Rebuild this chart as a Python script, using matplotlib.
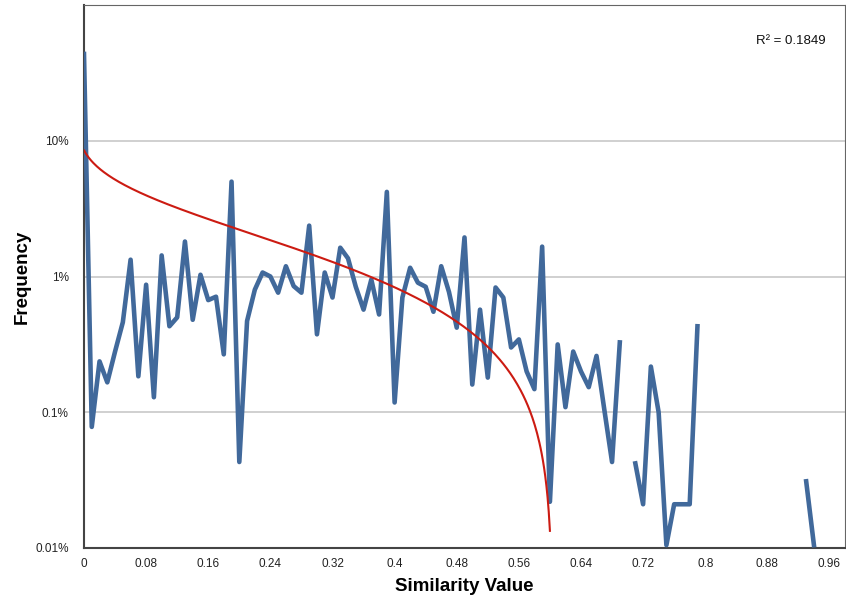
import numpy as np
import matplotlib.pyplot as plt

plt.rcParams['font.family'] = ['Liberation Sans', 'DejaVu Sans']

# similarity value categories (step 0.01) and frequency in percent
similarity = [round(i * 0.01, 2) for i in range(95)]
nan = np.nan
frequency = [
    43.6, 0.078, 0.237, 0.166, 0.28, 0.46, 1.33, 0.184, 0.87, 0.129,
    1.43, 0.43, 0.50, 1.81, 0.48, 1.03, 0.67, 0.71, 0.267, 5.0,
    0.043, 0.47, 0.80, 1.07, 1.0, 0.76, 1.19, 0.85, 0.76, 2.37,
    0.375, 1.07, 0.70, 1.63, 1.36, 0.84, 0.57, 0.95, 0.525, 4.2,
    0.118, 0.70, 1.16, 0.90, 0.84, 0.55, 1.19, 0.77, 0.42, 1.94,
    0.16, 0.57, 0.18, 0.83, 0.70, 0.30, 0.344, 0.20, 0.148, 1.66,
    0.0219, 0.316, 0.109, 0.28, 0.20, 0.153, 0.26, 0.105, 0.043, 0.327,
    nan, 0.042, 0.021, 0.217, 0.10, 0.0105, 0.021, 0.021, 0.021, 0.43,
    nan, nan, nan, nan, nan, nan, nan, nan, nan, nan,
    nan, nan, nan, 0.031, 0.0105,
]
xticks = [0, 0.08, 0.16, 0.24, 0.32, 0.4, 0.48, 0.56, 0.64, 0.72, 0.8, 0.88, 0.96]
xtick_labels = ['0', '0.08', '0.16', '0.24', '0.32', '0.4', '0.48', '0.56',
                '0.64', '0.72', '0.8', '0.88', '0.96']
yticks = [0.01, 0.1, 1, 10]
ytick_labels = ['0.01%', '0.1%', '1%', '10%']
r_squared = '0.1849'

# logarithmic trendline y = a + b*ln(n), n = category index
trend_a = 8.49
trend_b = -2.062
trend_last_n = 61

x = np.array(similarity)
y = np.array(frequency)

n_fine = np.linspace(1, trend_last_n, 400)
trend = trend_a + trend_b * np.log(n_fine)
x_fine = (n_fine - 1) * 0.01
trend[trend <= 0] = np.nan

fig = plt.figure(figsize=(8.46, 5.98), dpi=100)
ax = fig.add_axes([84 / 846, 50 / 598, 761 / 846, 543 / 598])

ax.plot(x, y, color='#41699b', lw=3.3, solid_joinstyle='round', zorder=3)
ax.plot(x_fine, trend, color='#cc1b12', lw=1.5, zorder=4)

ax.set_yscale('log')
ax.set_ylim(0.01, 100)
ax.set_xlim(0, 0.98)
ax.set_yticks(yticks)
ax.set_yticklabels(ytick_labels)
ax.yaxis.set_minor_locator(plt.NullLocator())
ax.set_xticks(xticks)
ax.set_xticklabels(xtick_labels)
ax.tick_params(axis='both', length=0, labelsize=8.5, colors='#222222')
ax.tick_params(axis='y', pad=11)
ax.tick_params(axis='x', pad=7)
ax.grid(axis='y', color='#c8c8c8', lw=1.2)
ax.set_axisbelow(True)

for side in ['left', 'bottom']:
    ax.spines[side].set_color('#444444')
    ax.spines[side].set_linewidth(1.5)
for side in ['top', 'right']:
    ax.spines[side].set_color('#666666')
    ax.spines[side].set_linewidth(0.8)

ax.set_xlabel('Similarity Value', fontsize=13.5, fontweight='bold', labelpad=6)
ax.set_ylabel('Frequency', fontsize=13.5, fontweight='bold', labelpad=3)

ax.text(0.975, 0.933, 'R² = ' + r_squared, transform=ax.transAxes,
        ha='right', va='center', fontsize=9.5, color='#111111')

fig.savefig('out.png', dpi=100)
